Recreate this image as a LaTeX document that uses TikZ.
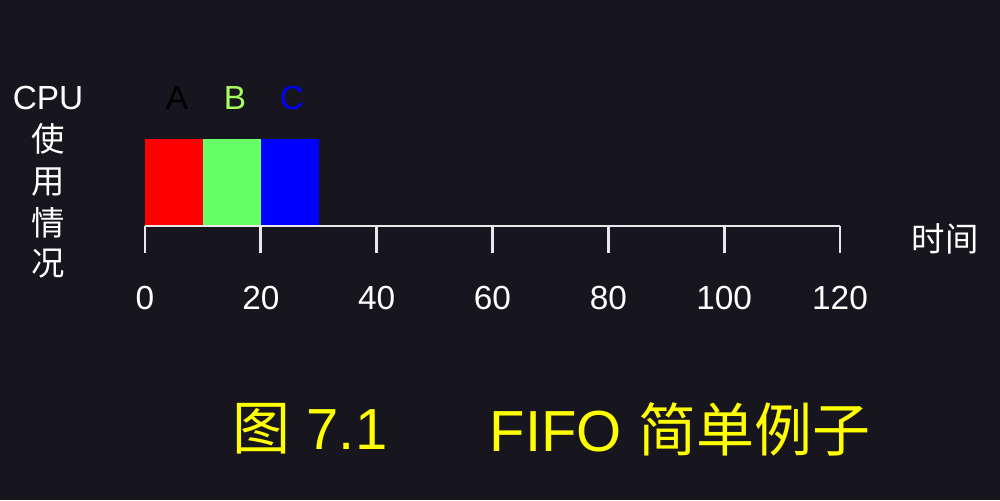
\documentclass[tikz,border=0pt]{standalone}
\usepackage{fontspec}
\setmainfont{Liberation Sans}
\newfontfamily\cjk{Noto Sans CJK SC}
\usetikzlibrary{positioning}
\definecolor{bgdark}{HTML}{17151D}
\definecolor{jobred}{HTML}{FF0000}
\definecolor{jobgreen}{HTML}{66FF66}
\definecolor{jobblue}{HTML}{0000FF}
\definecolor{labgreen}{HTML}{A6FF5E}
\definecolor{axisgray}{HTML}{E8E8E8}
\definecolor{capyellow}{HTML}{FFFF00}

\begin{document}
\begin{tikzpicture}[x=0.02cm, y=-0.02cm,
    lbl/.style={font=\fontsize{19}{22}\selectfont, text=white, inner sep=0pt},
    caption/.style={font=\fontsize{33}{38}\selectfont, text=capyellow, inner sep=0pt},
    axisline/.style={draw=axisgray, line width=1.6pt}]
  \fill[bgdark] (0,0) rectangle (1000,500);
  % y-axis label, one character per line
  \node[lbl] (cpu) at (48,98) {CPU};
  \node[lbl] (shi) at (48,139) {\cjk 使};
  \node[lbl] (yong) at (48,182) {\cjk 用};
  \node[lbl] (qing) at (48,223) {\cjk 情};
  \node[lbl] (kuang) at (48,264) {\cjk 况};
  % job bars
  \fill[jobred] (145,139) rectangle (203,226);
  \fill[jobgreen] (203,139) rectangle (261,226);
  \fill[jobblue] (261,139) rectangle (319,226);
  \node[lbl, text=black] (joba) at (177,98) {A};
  \node[lbl, text=labgreen] (jobb) at (235,98) {B};
  \node[lbl, text=jobblue] (jobc) at (292,98) {C};
  % time axis
  \coordinate (tstart) at (145,226);
  \coordinate (tend) at (840,226);
  \draw[axisline] (tstart) -- (tend);
  \foreach \i/\v in {0/0,1/20,2/40,3/60,4/80,5/100,6/120} {
    \coordinate (tick\i) at (145+115.83*\i,226);
    \draw[axisline] (tick\i) -- ++(0,27);
    \node[lbl] (num\i) at (145+115.83*\i,298) {\v};
  }
  \node[lbl] (timelbl) at (945,239) {\cjk 时间};
  % caption
  \node[caption] (capnum) at (310,429) {{\cjk 图} 7.1};
  \node[caption] (captitle) at (680,429) {FIFO {\cjk 简单例子}};
\end{tikzpicture}
\end{document}
